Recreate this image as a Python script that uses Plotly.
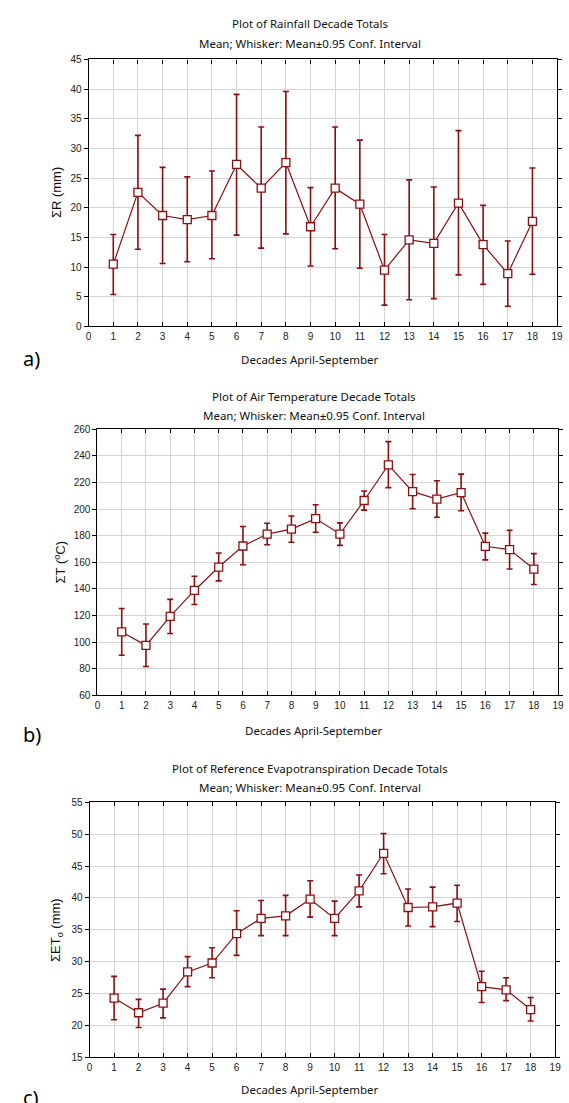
import plotly.graph_objects as go

W, H = 569, 1103

decades = list(range(1, 19))

# a) Rainfall
rain_mean = [10.5, 22.6, 18.7, 18.0, 18.7, 27.3, 23.3, 27.6, 16.8, 23.3, 20.6, 9.5, 14.6, 14.0, 20.8, 13.8, 8.9, 17.7]
rain_up   = [15.5, 32.2, 26.8, 25.2, 26.2, 39.1, 33.6, 39.6, 23.4, 33.6, 31.4, 15.5, 24.7, 23.5, 33.0, 20.4, 14.4, 26.7]
rain_low  = [5.4, 13.0, 10.6, 10.9, 11.4, 15.4, 13.2, 15.6, 10.2, 13.1, 9.8, 3.6, 4.5, 4.7, 8.7, 7.1, 3.4, 8.8]

# b) Air temperature
temp_mean = [107.7, 97.6, 119.4, 138.9, 156.5, 172.3, 181.3, 185.0, 192.9, 181.3, 206.5, 233.3, 213.2, 207.5, 212.5, 172.1, 169.6, 155.0]
temp_up   = [125.3, 113.7, 132.2, 149.6, 167.1, 187.0, 189.4, 194.9, 203.3, 189.7, 213.7, 250.8, 226.1, 221.4, 226.3, 182.0, 184.2, 166.6]
temp_low  = [90.2, 81.7, 106.5, 128.3, 146.1, 158.2, 173.3, 175.1, 182.7, 172.8, 199.3, 216.2, 200.3, 193.9, 198.8, 161.9, 155.0, 143.4]

# c) Reference evapotranspiration
et_mean = [24.3, 22.0, 23.5, 28.4, 29.8, 34.4, 36.8, 37.2, 39.8, 36.8, 41.1, 47.0, 38.5, 38.6, 39.2, 26.1, 25.6, 22.5]
et_up   = [27.7, 24.1, 25.7, 30.8, 32.2, 38.0, 39.6, 40.4, 42.7, 39.5, 43.6, 50.1, 41.4, 41.7, 42.0, 28.5, 27.5, 24.4]
et_low  = [20.9, 19.7, 21.2, 26.1, 27.5, 31.0, 34.1, 34.1, 37.0, 34.1, 38.6, 43.8, 35.6, 35.5, 36.3, 23.6, 23.9, 20.7]

x_ticks = list(range(0, 20))

titles = ["Plot of Rainfall Decade Totals",
          "Plot of Air Temperature Decade Totals",
          "Plot of Reference Evapotranspiration Decade Totals"]
subtitle = "Mean; Whisker: Mean±0.95 Conf. Interval"
x_title = "Decades April-September"
y_titles = ["ΣR (mm)", "ΣT (<sup>o</sup>C)", "ΣET<sub>o</sub> (mm)"]
panel_labels = ["a)", "b)", "c)"]
y_ranges = [(0, 45, 5), (60, 260, 20), (15, 55, 5)]

# layout geometry in pixels: (left, right, top, bottom)
boxes = [(87, 563, 54, 324), (96, 564, 428, 697), (88, 561, 805, 1063)]
title_y = [(18, 38), (395, 414), (771, 790)]
text_cx = [312, 316, 312]
xtitle_y = [357, 732, 1095]
ytitle_x = [55, 58, 55]
label_y = [356, 737, 1104]

RED = "#8B1010"
GRID = "#d4d4d4"
TXT = "Noto Sans"

def px(xp):
    return xp / W

def py(yp):
    return 1 - yp / H

series = [(rain_mean, rain_up, rain_low), (temp_mean, temp_up, temp_low), (et_mean, et_up, et_low)]

fig = go.Figure()
annotations = []
for i, (m, up, lo) in enumerate(series):
    xa = "x" if i == 0 else f"x{i+1}"
    ya = "y" if i == 0 else f"y{i+1}"
    fig.add_trace(go.Scatter(
        x=decades, y=m, xaxis=xa, yaxis=ya, mode="lines+markers",
        line=dict(color=RED, width=1.2),
        marker=dict(symbol="square", size=8, color="white", line=dict(color=RED, width=1.3)),
        error_y=dict(type="data", symmetric=False,
                     array=[u - v for u, v in zip(up, m)],
                     arrayminus=[v - l for v, l in zip(m, lo)],
                     color=RED, thickness=1.6, width=3),
        showlegend=False, cliponaxis=False))
    l, r, t, b = boxes[i]
    y0, y1, dy = y_ranges[i]
    axkey = "xaxis" if i == 0 else f"xaxis{i+1}"
    aykey = "yaxis" if i == 0 else f"yaxis{i+1}"
    fig.update_layout(**{
        axkey: dict(domain=[px(l), px(r)], range=[0, 19], anchor=ya,
                    tickvals=x_ticks, ticktext=[str(v) for v in x_ticks],
                    showgrid=True, gridcolor=GRID, gridwidth=1,
                    showline=True, linecolor="black", linewidth=1.2, mirror="ticks",
                    ticks="inside", ticklen=4, tickcolor="black", zeroline=False,
                    tickfont=dict(family="Liberation Sans", size=10, color="#222")),
        aykey: dict(domain=[py(b), py(t)], range=[y0, y1], anchor=xa,
                    tickvals=list(range(y0, y1 + 1, dy)),
                    showgrid=True, gridcolor=GRID, gridwidth=1,
                    showline=True, linecolor="black", linewidth=1.2, mirror="ticks",
                    ticks="outside", ticklen=4, tickcolor="black", zeroline=False,
                    tickfont=dict(family="Liberation Sans", size=10, color="#222")),
    })
    cx = text_cx[i]
    annotations += [
        dict(text=titles[i], x=px(cx), y=py(title_y[i][0]), xref="paper", yref="paper",
             showarrow=False, xanchor="center", yanchor="middle",
             font=dict(family=TXT, size=11.5, color="#111")),
        dict(text=subtitle, x=px(cx), y=py(title_y[i][1]), xref="paper", yref="paper",
             showarrow=False, xanchor="center", yanchor="middle",
             font=dict(family=TXT, size=11.5, color="#111")),
        dict(text=x_title, x=px(cx), y=py(xtitle_y[i]), xref="paper", yref="paper",
             showarrow=False, xanchor="center", yanchor="middle",
             font=dict(family=TXT, size=11.5, color="#111")),
        dict(text=y_titles[i], x=px(ytitle_x[i]), y=py((t + b) / 2), xref="paper", yref="paper",
             showarrow=False, xanchor="center", yanchor="middle", textangle=-90,
             font=dict(family="Liberation Sans", size=13, color="#111")),
        dict(text=panel_labels[i], x=px(18), y=py(label_y[i]), xref="paper", yref="paper",
             showarrow=False, xanchor="left", yanchor="middle",
             font=dict(family=TXT, size=20, color="#000")),
    ]

fig.update_layout(width=W, height=H, margin=dict(l=0, r=0, t=0, b=0),
                  paper_bgcolor="white", plot_bgcolor="white",
                  annotations=annotations)

fig.write_html("out.html")
